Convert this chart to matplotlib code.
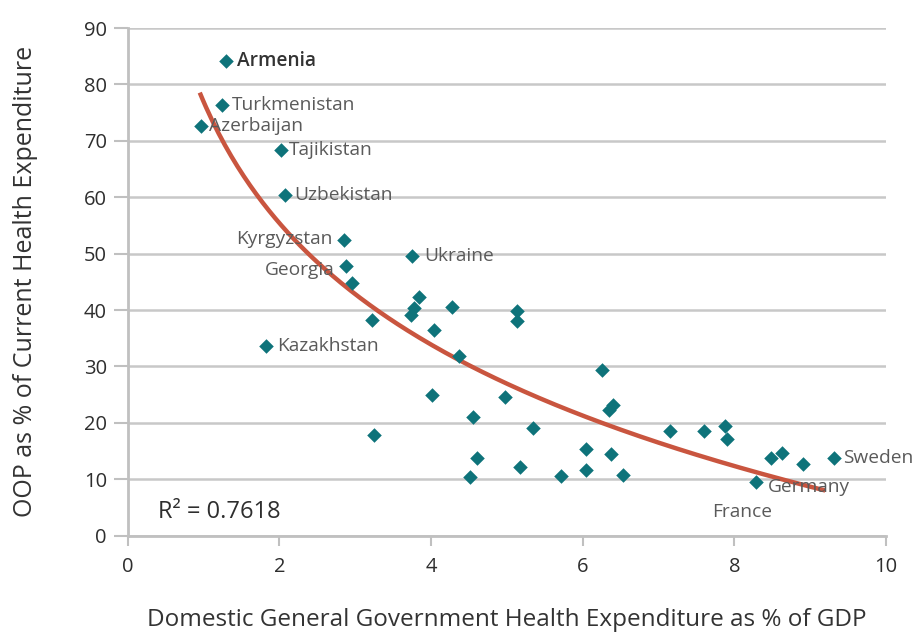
import numpy as np
import matplotlib.pyplot as plt

# Datos
gasto_pub = [1.29, 1.24, 0.96, 2.02, 2.07, 2.85, 2.88, 2.96, 3.75, 1.82,
             3.84, 4.28, 5.13, 5.13, 3.78, 3.74, 3.22, 4.04, 4.37, 4.01,
             4.98, 4.56, 3.25, 4.61, 4.52, 5.18, 6.26, 6.40, 6.35, 5.35,
             5.72, 6.04, 6.05, 6.37, 6.53, 7.15, 7.60, 7.88, 7.90, 8.49,
             8.63, 8.91, 9.31, 8.29]
oop = [84.2, 76.4, 72.6, 68.4, 60.4, 52.4, 47.8, 44.8, 49.6, 33.6,
       42.4, 40.5, 39.9, 38.1, 40.3, 39.2, 38.2, 36.5, 31.8, 24.9,
       24.6, 21.0, 17.8, 13.8, 10.4, 12.2, 29.4, 23.1, 22.2, 19.1,
       10.5, 15.3, 11.7, 14.4, 10.7, 18.5, 18.5, 19.4, 17.1, 13.8,
       14.6, 12.7, 13.8, 9.6]

# etiquetas de paises
paises = ['Armenia', 'Turkmenistan', 'Azerbaijan', 'Tajikistan', 'Uzbekistan',
          'Kyrgyzstan', 'Georgia', 'Ukraine', 'Kazakhstan', 'Sweden',
          'Germany', 'France']
pais_x = [1.29, 1.24, 0.96, 2.02, 2.07, 2.85, 2.88, 3.75, 1.82, 9.31, 8.29, 8.29]
pais_y = [84.2, 76.4, 72.6, 68.4, 60.4, 52.4, 47.8, 49.6, 33.6, 13.8, 9.6, 9.6]

teal = '#0E737A'
rojo = '#C9553F'
gris = '#5A5A5A'
plt.rcParams['font.family'] = ['Open Sans', 'DejaVu Sans']

fig = plt.figure(figsize=(9.19, 6.37), dpi=100)
ax = fig.add_axes([0.139, 0.159, 0.825, 0.797])

# tendencia logaritmica
b, a = np.polyfit(np.log(gasto_pub), oop, 1)
xt = np.linspace(0.95, 9.2, 200)
ax.plot(xt, a + b*np.log(xt), color=rojo, lw=3.2, zorder=2, solid_capstyle='butt')

ax.scatter(gasto_pub, oop, marker='D', s=55, color=teal, zorder=3, linewidths=0)

desp = {'Armenia': (8, 0, 'left'), 'Turkmenistan': (7, 0, 'left'),
        'Azerbaijan': (6, 0, 'left'), 'Tajikistan': (6, 0, 'left'),
        'Uzbekistan': (7, 0, 'left'), 'Kyrgyzstan': (-8, 1, 'right'),
        'Georgia': (-8, -3, 'right'), 'Ukraine': (9, 0, 'left'),
        'Kazakhstan': (8, 0, 'left'), 'Sweden': (7, 0, 'left'),
        'Germany': (8, -3.6, 'left'), 'France': (-32, -21.6, 'left')}
for n, px, py in zip(paises, pais_x, pais_y):
    dx, dy, ha = desp[n]
    ax.annotate(n, (px, py), xytext=(dx, dy), textcoords='offset points',
                ha=ha, va='center', fontsize=13.8,
                color='#333333' if n == 'Armenia' else gris,
                fontweight='semibold' if n == 'Armenia' else 'normal', zorder=4)

ax.text(0.4, 3.2, 'R² = 0.7618', fontsize=17, color='#2E2E2E')

ax.set_xlim(0, 10)
ax.set_ylim(0, 90)
ax.set_xticks(range(0, 11, 2))
ax.set_yticks(range(0, 91, 10))
ax.yaxis.grid(True, color='#C8C8C8', lw=1.8)
ax.set_axisbelow(True)
for s in ['top', 'right']:
    ax.spines[s].set_visible(False)
for s in ['left', 'bottom']:
    ax.spines[s].set_color('#C0C0C0')
    ax.spines[s].set_linewidth(2)
ax.tick_params(axis='y', length=10, width=1.5, color='#C0C0C0', labelsize=14.5,
               labelcolor='#2E2E2E', pad=5)
ax.tick_params(axis='x', length=7, width=1.5, color='#C0C0C0', labelsize=14.5,
               labelcolor='#2E2E2E', pad=8)

ax.set_xlabel('Domestic General Government Health Expenditure as % of GDP',
              fontsize=17.5, color='#333333', labelpad=23)
ax.set_ylabel('OOP as % of Current Health Expenditure', fontsize=18,
              color='#333333', labelpad=33)

fig.savefig('out.png', dpi=100)
